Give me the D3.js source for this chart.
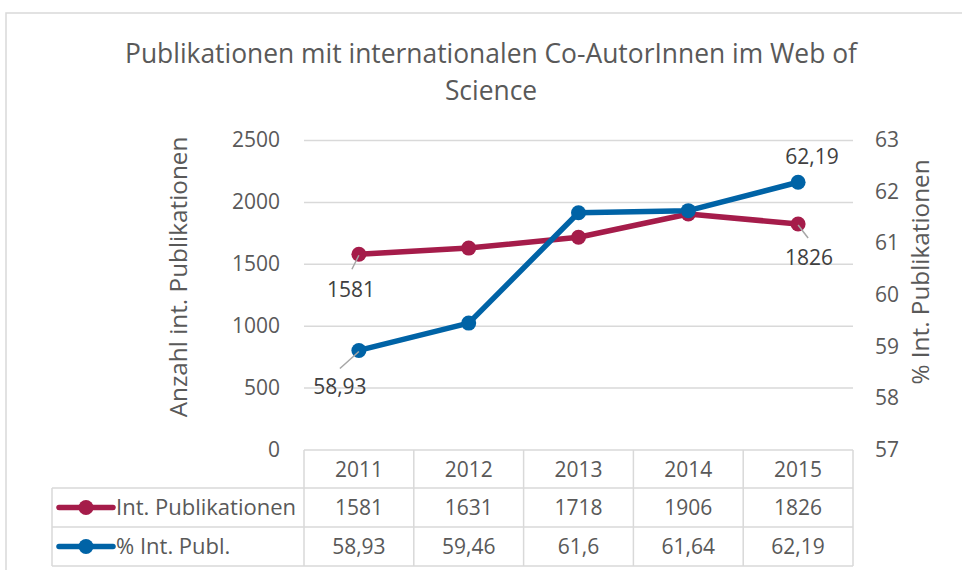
<!DOCTYPE html>
<html>
<head>
<meta charset="utf-8">
<script src="https://cdn.jsdelivr.net/npm/d3@7"></script>
<style>
  body { margin: 0; background: #fff; }
  svg text { font-family: "Open Sans", "Noto Sans", sans-serif; }
</style>
</head>
<body>
<div id="chart"></div>
<script>
// Daten
const years = ["2011", "2012", "2013", "2014", "2015"];
const intPubl = [1581, 1631, 1718, 1906, 1826];
const pctPubl = [58.93, 59.46, 61.6, 61.64, 62.19];
const leftTicks = [0, 500, 1000, 1500, 2000, 2500];
const rightTicks = [57, 58, 59, 60, 61, 62, 63];
const seriesNames = ["Int. Publikationen", "% Int. Publ."];
const titleLines = ["Publikationen mit internationalen Co-AutorInnen im Web of", "Science"];

const fmt = v => String(v).replace(".", ",");

const width = 962, height = 570;
const plot = {left: 304, right: 853, top: 140.5, bottom: 450};
const red = "#A51C4A", blue = "#0063A6";
const grid = "#d9d9d9";

const svg = d3.select("#chart").append("svg")
  .attr("width", width)
  .attr("height", height);

// Rahmen
svg.append("rect")
  .attr("x", 6).attr("y", 13)
  .attr("width", 980).attr("height", 600)
  .attr("fill", "none")
  .attr("stroke", grid)
  .attr("stroke-width", 1.5);

// Titel
svg.append("text")
  .attr("text-anchor", "middle")
  .style("font-size", "26.4px")
  .style("fill", "#595959")
  .selectAll("tspan")
  .data(titleLines)
  .enter()
  .append("tspan")
  .attr("x", 491)
  .attr("y", (d, i) => 63 + i * 37)
  .text(d => d);

// Skalen
const x = d3.scaleBand()
  .domain(years)
  .range([plot.left, plot.right])
  .padding(0);

const yLeft = d3.scaleLinear()
  .domain([0, 2500])
  .range([plot.bottom, plot.top]);

const yRight = d3.scaleLinear()
  .domain([57, 63])
  .range([plot.bottom, plot.top]);

const cx = d => x(d) + x.bandwidth() / 2;

// Gitterlinien
svg.append("g")
  .selectAll("line")
  .data(leftTicks.filter(d => d > 0))
  .enter()
  .append("line")
  .attr("x1", plot.left)
  .attr("x2", plot.right)
  .attr("y1", d => yLeft(d))
  .attr("y2", d => yLeft(d))
  .attr("stroke", grid)
  .attr("stroke-width", 1.5);

// Achsen
const leftAxis = svg.append("g")
  .attr("transform", `translate(${plot.left}, 0)`)
  .call(d3.axisLeft(yLeft).tickValues(leftTicks).tickFormat(d3.format("d")).tickSize(0).tickPadding(24));
leftAxis.select(".domain").remove();
leftAxis.selectAll("text")
  .style("font-size", "21px")
  .style("fill", "#595959")
  .attr("dy", "0.3em");

const rightAxis = svg.append("g")
  .attr("transform", `translate(${plot.right}, 0)`)
  .call(d3.axisRight(yRight).tickValues(rightTicks).tickFormat(d3.format("d")).tickSize(0).tickPadding(22));
rightAxis.select(".domain").remove();
rightAxis.selectAll("text")
  .style("font-size", "21px")
  .style("fill", "#595959")
  .attr("dy", "0.3em");

// Achsentitel
svg.append("text")
  .attr("transform", "translate(187, 277) rotate(-90)")
  .attr("text-anchor", "middle")
  .style("font-size", "24.3px")
  .style("fill", "#595959")
  .text("Anzahl int. Publikationen");

svg.append("text")
  .attr("transform", "translate(929, 272) rotate(-90)")
  .attr("text-anchor", "middle")
  .style("font-size", "24.3px")
  .style("fill", "#595959")
  .text("% Int. Publikationen");

// Linien
const lineLeft = d3.line()
  .x((d, i) => cx(years[i]))
  .y(d => yLeft(d));
const lineRight = d3.line()
  .x((d, i) => cx(years[i]))
  .y(d => yRight(d));

svg.append("path")
  .datum(intPubl)
  .attr("d", lineLeft)
  .attr("fill", "none")
  .attr("stroke", red)
  .attr("stroke-width", 5.5)
  .attr("stroke-linejoin", "round");

svg.append("path")
  .datum(pctPubl)
  .attr("d", lineRight)
  .attr("fill", "none")
  .attr("stroke", blue)
  .attr("stroke-width", 5.5)
  .attr("stroke-linejoin", "round");

svg.selectAll(".dot-red")
  .data(intPubl)
  .enter()
  .append("circle")
  .attr("class", "dot-red")
  .attr("cx", (d, i) => cx(years[i]))
  .attr("cy", d => yLeft(d))
  .attr("r", 7.5)
  .attr("fill", red);

svg.selectAll(".dot-blue")
  .data(pctPubl)
  .enter()
  .append("circle")
  .attr("class", "dot-blue")
  .attr("cx", (d, i) => cx(years[i]))
  .attr("cy", d => yRight(d))
  .attr("r", 7.5)
  .attr("fill", blue);

// Datenbeschriftungen (erster und letzter Punkt)
const labels = [
  {i: 0, v: intPubl[0], y: yLeft, lx: -8, ly: 43, leader: [[0, 1], [-7, 15]]},
  {i: 4, v: intPubl[4], y: yLeft, lx: 11, ly: 41, leader: [[0, 1], [10, 14]]},
  {i: 0, v: pctPubl[0], y: yRight, lx: -19, ly: 44, leader: [[0, 1], [-19, 18]]},
  {i: 4, v: pctPubl[4], y: yRight, lx: 14, ly: -18, leader: null}
];

labels.forEach(l => {
  const px = cx(years[l.i]);
  const py = l.y(l.v);
  if (l.leader) {
    svg.append("line")
      .attr("x1", px + l.leader[0][0]).attr("y1", py + l.leader[0][1])
      .attr("x2", px + l.leader[1][0]).attr("y2", py + l.leader[1][1])
      .attr("stroke", "#a6a6a6")
      .attr("stroke-width", 1.5);
  }
  svg.append("text")
    .attr("x", px + l.lx)
    .attr("y", py + l.ly)
    .attr("text-anchor", "middle")
    .style("font-size", "21px")
    .style("fill", "#404040")
    .text(fmt(l.v));
});

// Datentabelle
const rowTop = [450, 488, 527];
const rowBottom = 566;
const legendLeft = 52;
const tableColor = "#d9d9d9";
const table = svg.append("g");

// horizontale Linien
table.append("line")
  .attr("x1", plot.left).attr("x2", plot.right)
  .attr("y1", rowTop[0]).attr("y2", rowTop[0])
  .attr("stroke", tableColor).attr("stroke-width", 1.5);
[rowTop[1], rowTop[2], rowBottom].forEach(yy => {
  table.append("line")
    .attr("x1", legendLeft).attr("x2", plot.right)
    .attr("y1", yy).attr("y2", yy)
    .attr("stroke", tableColor).attr("stroke-width", 1.5);
});

// vertikale Linien
table.append("line")
  .attr("x1", legendLeft).attr("x2", legendLeft)
  .attr("y1", rowTop[1]).attr("y2", rowBottom)
  .attr("stroke", tableColor).attr("stroke-width", 1.5);
years.forEach(yr => {
  table.append("line")
    .attr("x1", x(yr)).attr("x2", x(yr))
    .attr("y1", rowTop[0]).attr("y2", rowBottom)
    .attr("stroke", tableColor).attr("stroke-width", 1.5);
});
table.append("line")
  .attr("x1", plot.right).attr("x2", plot.right)
  .attr("y1", rowTop[0]).attr("y2", rowBottom)
  .attr("stroke", tableColor).attr("stroke-width", 1.5);

const rowCenter = [
  (rowTop[0] + rowTop[1]) / 2,
  (rowTop[1] + rowTop[2]) / 2,
  (rowTop[2] + rowBottom) / 2
];

const cellText = (xx, yy, txt) => table.append("text")
  .attr("x", xx)
  .attr("y", yy)
  .attr("dy", "0.36em")
  .attr("text-anchor", "middle")
  .style("font-size", "21px")
  .style("fill", "#595959")
  .text(txt);

years.forEach((yr, i) => {
  cellText(cx(yr), rowCenter[0], yr);
  cellText(cx(yr), rowCenter[1], fmt(intPubl[i]));
  cellText(cx(yr), rowCenter[2], fmt(pctPubl[i]));
});

// Legendeneinträge
[red, blue].forEach((c, k) => {
  const yy = rowCenter[k + 1];
  table.append("line")
    .attr("x1", 59).attr("x2", 113)
    .attr("y1", yy).attr("y2", yy)
    .attr("stroke", c).attr("stroke-width", 5.5)
    .attr("stroke-linecap", "round");
  table.append("circle")
    .attr("cx", 86).attr("cy", yy)
    .attr("r", 7.5)
    .attr("fill", c);
  table.append("text")
    .attr("x", 116)
    .attr("y", yy)
    .attr("dy", "0.36em")
    .style("font-size", "22px")
    .style("fill", "#595959")
    .text(seriesNames[k]);
});
</script>
</body>
</html>
